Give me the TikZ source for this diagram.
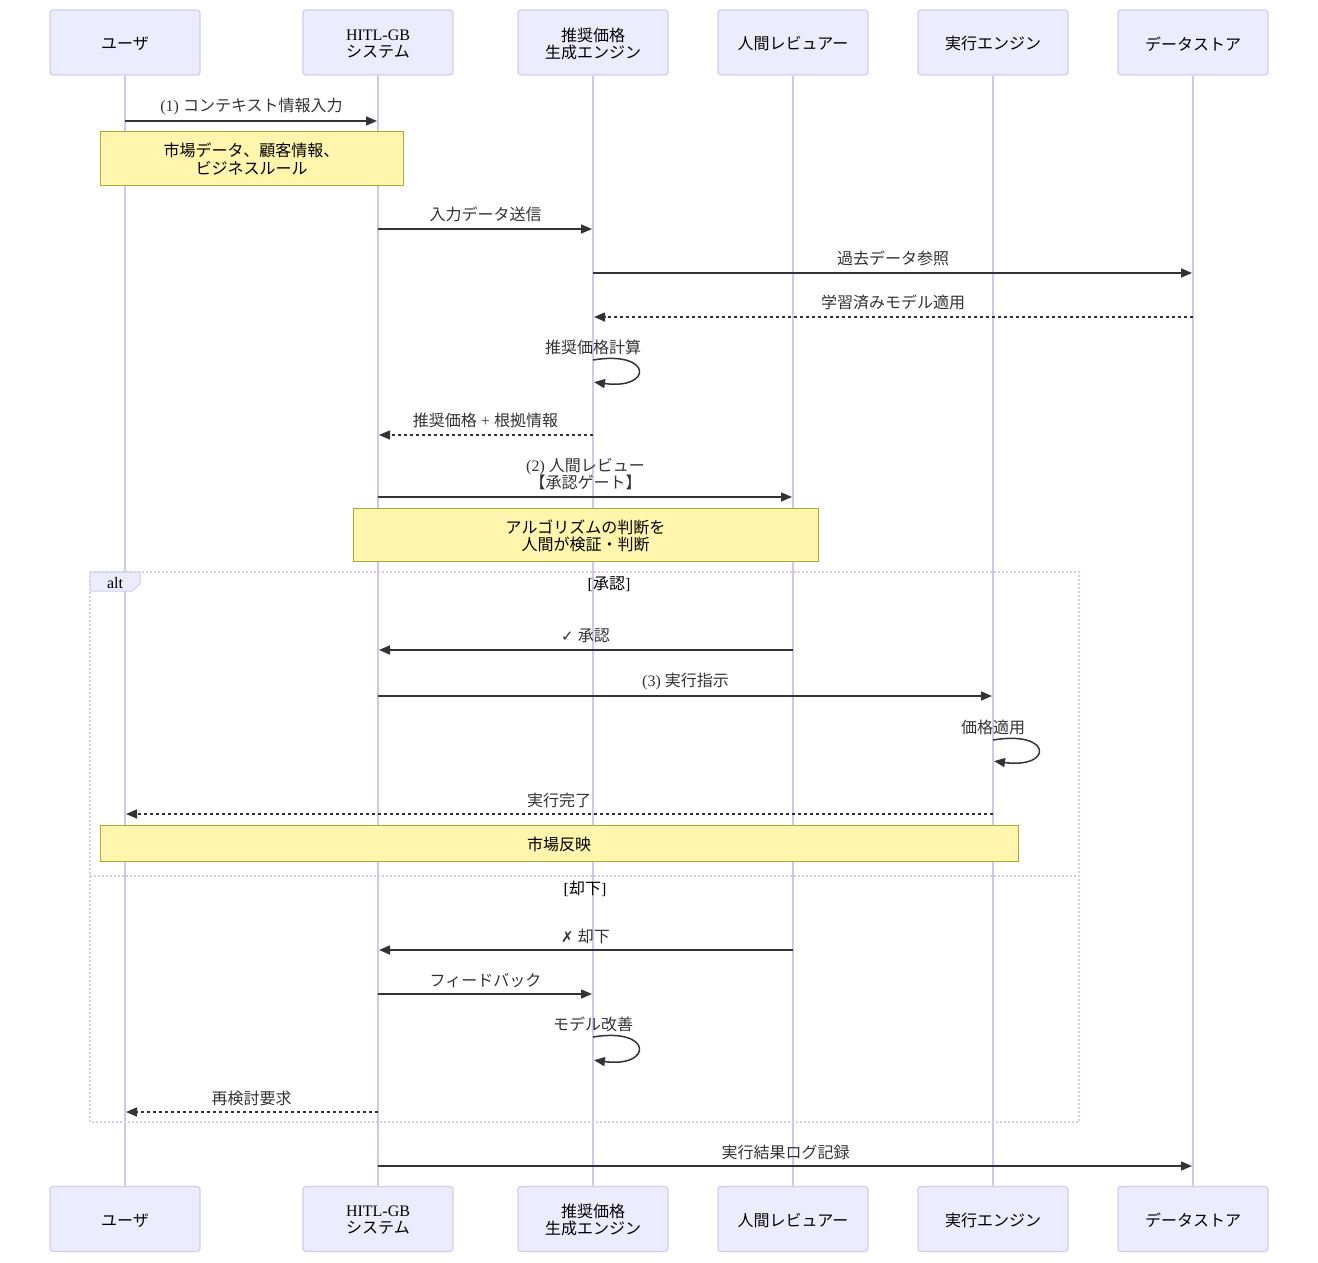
\documentclass[tikz,border=0pt]{standalone}
\usepackage{fontspec}
\setmainfont{Liberation Serif}
\newfontfamily\jp{Noto Sans CJK JP}
\newfontfamily\dv{DejaVu Sans}
\usetikzlibrary{arrows.meta}
\newcommand\J[1]{{\jp #1}}
\definecolor{actf}{HTML}{ECECFF}
\definecolor{actd}{HTML}{D3CDF2}
\definecolor{lifec}{HTML}{CEC8EE}
\definecolor{notef}{HTML}{FFF5AD}
\definecolor{noted}{HTML}{AAAA33}
\definecolor{txt}{HTML}{333333}
\definecolor{altc}{HTML}{D2CEE6}
\begin{document}
\begin{tikzpicture}[x=1pt,y=-1pt,
  actor/.style={draw=actd, fill=actf, line width=1.2pt, rounded corners=3pt,
    minimum width=150pt, minimum height=65pt, align=center, inner sep=0pt,
    font=\fontsize{16}{17}\selectfont},
  life/.style={draw=lifec, line width=1.5pt},
  msg/.style={draw=txt, line width=1.5pt, -{Triangle[length=11pt,width=9pt]}, shorten >=1pt},
  rmsg/.style={msg, dash pattern=on 3pt off 3pt},
  lbl/.style={text=txt, font=\fontsize{16}{17.5}\selectfont, inner sep=0pt, align=center},
  note/.style={draw=noted, fill=notef, line width=1pt, align=center, inner sep=0pt,
    font=\fontsize{16}{17.5}\selectfont},
  altline/.style={draw=altc, line width=1.5pt, dash pattern=on 2pt off 2pt}
]
\useasboundingbox[fill=white] (0,0) rectangle (1318,1263);

% participants
\foreach \n/\x/\t in {u/125/\J{ユーザ}, h/378/HITL-GB\\\J{システム}, e/593/\J{推奨価格}\\\J{生成エンジン},
  r/793/\J{人間レビュアー}, x/993/\J{実行エンジン}, d/1193/\J{データストア}}{
  \node[actor] (\n T) at (\x,42.5) {};
  \node[actor] (\n B) at (\x,1219) {};
  \node[actor, draw=none, fill=none] (\n Tt) at (\x,43.8) {\t};
  \node[actor, draw=none, fill=none] (\n Bt) at (\x,1220.3) {\t};
  \draw[life] (\n T.south) -- (\n B.north);
}

% row coordinates
\foreach \k/\y in {r1/121, r2/229, r3/273, r4/317, r5/360, r5b/382, r6/435, r7/497,
  r8/650, r9/696, r10/740, r10b/761, r11/814, r12/950, r13/994, r14/1037, r14b/1060,
  r15/1112, r16/1166}{
  \coordinate (\k) at (0,\y);
}

% alt frame
\draw[altline] (90,572) rectangle (1079,1122);
\draw[altline] (90,876) -- (1079,876);
\draw[draw=actd, fill=actf, line width=1pt] (90,572) -- (140,572) -- (140,584) -- (132,591) -- (90,591) -- cycle;
\node[lbl, text=black] (altl) at (115,583) {alt};
\node[lbl, text=black] (g1) at (609,584) {[\J{承認}]};
\node[lbl, text=black] (g2) at (585,889) {[\J{却下}]};

% messages
\draw[msg] (uT |- r1) -- node[lbl, yshift=15pt] (l1) {(1) \J{コンテキスト情報入力}} (hT |- r1);
\node[note, minimum width=303pt, minimum height=54pt] (n1) at (251.5,158) {};
\node[lbl, text=black] (n1t) at (251.5,159) {\J{市場データ、顧客情報、}\\\J{ビジネスルール}};
\draw[msg] (hT |- r2) -- node[lbl, yshift=14.5pt] (l2) {\J{入力データ送信}} (eT |- r2);
\draw[msg] (eT |- r3) -- node[lbl, yshift=14.5pt] (l3) {\J{過去データ参照}} (dT |- r3);
\draw[rmsg] (dT |- r4) -- node[lbl, yshift=14.5pt] (l4) {\J{学習済みモデル適用}} (eT |- r4);
\node[lbl] (l5) at (593,347.5) {\J{推奨価格計算}};
\draw[msg] (eT |- r5) .. controls +(60,-10) and +(60,8) .. (eT |- r5b);
\draw[rmsg] (eT |- r6) -- node[lbl, yshift=14.5pt] (l6) {\J{推奨価格} + \J{根拠情報}} (hT |- r6);
\draw[msg] (hT |- r7) -- node[lbl, yshift=23pt] (l7) {(2) \J{人間レビュー}\\\J{【承認ゲート】}} (rT |- r7);
\node[note, minimum width=465pt, minimum height=53pt] (n2) at (585.5,534.5) {};
\node[lbl, text=black] (n2t) at (585.5,536) {\J{アルゴリズムの判断を}\\\J{人間が検証・判断}};

\draw[msg] (rT |- r8) -- node[lbl, yshift=14pt] (l8) {{\dv\fontsize{15}{15}\selectfont ✓} \J{承認}} (hT |- r8);
\draw[msg] (hT |- r9) -- node[lbl, yshift=14.5pt] (l9) {(3) \J{実行指示}} (xT |- r9);
\node[lbl] (l10) at (993,727.5) {\J{価格適用}};
\draw[msg] (xT |- r10) .. controls +(60,-10) and +(60,8) .. (xT |- r10b);
\draw[rmsg] (xT |- r11) -- node[lbl, yshift=13.5pt] (l11) {\J{実行完了}} (uT |- r11);
\node[note, minimum width=918pt, minimum height=36pt] (n3) at (559,843) {};
\node[lbl, text=black] (n3t) at (559,844.5) {\J{市場反映}};

\draw[msg] (rT |- r12) -- node[lbl, yshift=14pt] (l12) {{\dv\fontsize{15}{15}\selectfont ✗} \J{却下}} (hT |- r12);
\draw[msg] (hT |- r13) -- node[lbl, yshift=13.5pt] (l13) {\J{フィードバック}} (eT |- r13);
\node[lbl] (l14) at (593,1024.5) {\J{モデル改善}};
\draw[msg] (eT |- r14) .. controls +(60,-10) and +(60,8) .. (eT |- r14b);
\draw[rmsg] (hT |- r15) -- node[lbl, yshift=13.5pt] (l15) {\J{再検討要求}} (uT |- r15);
\draw[msg] (hT |- r16) -- node[lbl, yshift=13.5pt] (l16) {\J{実行結果ログ記録}} (dT |- r16);
\end{tikzpicture}
\end{document}
